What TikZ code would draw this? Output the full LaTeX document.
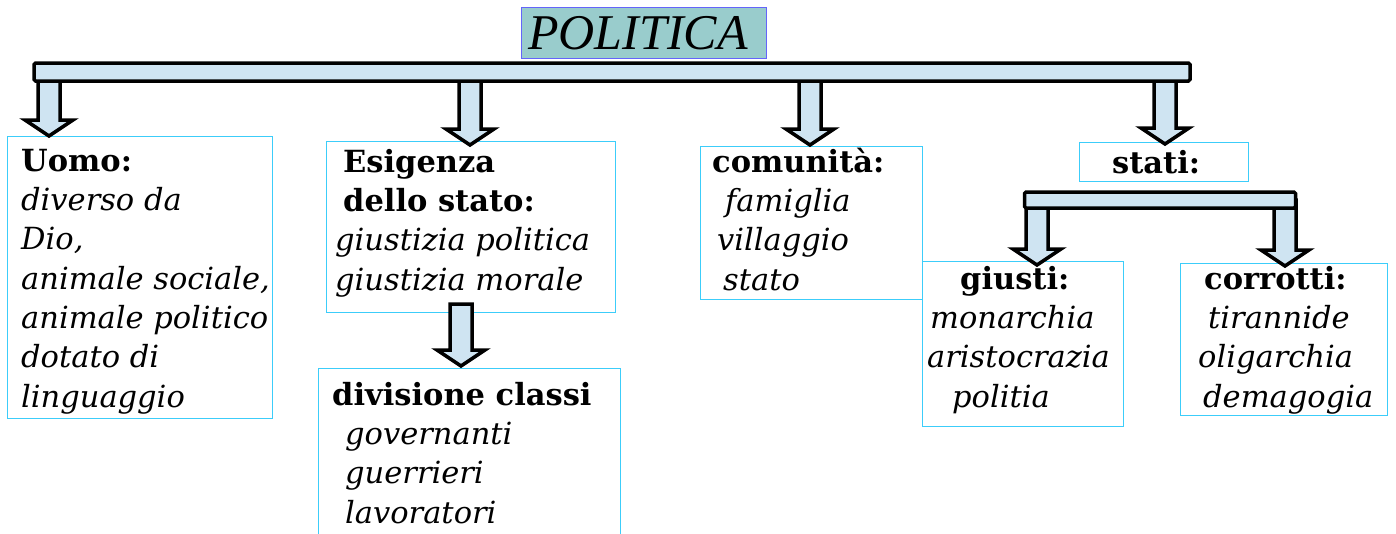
\documentclass[tikz,border=0pt]{standalone}
\usepackage{fontspec}
\setmainfont{DejaVu Serif}
\newfontfamily\titlefont{Liberation Serif}
\usetikzlibrary{calc}

\definecolor{barblue}{RGB}{207,228,242}
\definecolor{boxcyan}{RGB}{60,205,250}
\definecolor{titleteal}{RGB}{153,204,204}
\definecolor{titleline}{RGB}{100,100,250}

\tikzset{
  conceptbox/.style={draw=boxcyan, line width=1.2pt, anchor=north west, inner sep=0pt},
  boxtext/.style={anchor=base west, inner sep=0pt, align=left, font=\fontsize{30.5}{39.3}\selectfont},
  barbox/.style={draw=black, fill=barblue, line width=3.5pt, rounded corners=1.5pt, inner sep=0pt},
  fatarrow/.style={draw=black, fill=barblue, line width=3.5pt, line join=miter}
}

\newcommand{\fatarrow}[2]{%
  \draw[fatarrow] let \p1=(#1), \p2=(#2) in
    (\x2-11pt,\y1) -- (\x2-11pt,\y2+16pt) -- (\x2-24pt,\y2+16pt) -- (\x2,\y2)
    -- (\x2+24pt,\y2+16pt) -- (\x2+11pt,\y2+16pt) -- (\x2+11pt,\y1) -- cycle;}

\begin{document}
\begin{tikzpicture}[x=1pt,y=-1pt]
\useasboundingbox (0,0) rectangle (1396,533);

\node[draw=titleline, fill=titleteal, line width=1pt, minimum width=245pt, minimum height=51pt, inner sep=0pt,
  font=\titlefont\fontsize{50}{52}\selectfont\itshape] (politica) at (644,33) {\hspace*{-12pt}POLITICA};

\node[conceptbox, minimum width=265pt, minimum height=282pt] (uomo) at (7,136) {};
\node[conceptbox, minimum width=289pt, minimum height=171pt] (esigenza) at (326,141) {};
\node[conceptbox, minimum width=302pt, minimum height=200pt] (divisione) at (318,368) {};
\node[conceptbox, minimum width=222pt, minimum height=153pt] (comunita) at (700,146) {};
\node[conceptbox, minimum width=169pt, minimum height=39pt] (stati) at (1079,142) {};
\node[conceptbox, minimum width=201pt, minimum height=165pt] (giusti) at (922,261) {};
\node[conceptbox, minimum width=207pt, minimum height=152pt] (corrotti) at (1180,263) {};

\node[boxtext] (uomotxt) at (21,407) {\textbf{Uomo:}\\ \textit{diverso da}\\ \textit{Dio,}\\
  \textit{animale sociale,}\\ \textit{animale politico}\\ \textit{dotato di}\\ \textit{linguaggio}};
\node[boxtext] (esigenzatxt) at (335,290) {\hspace*{8pt}\textbf{Esigenza}\\ \hspace*{8pt}\textbf{dello stato:}\\
  \textit{giustizia politica}\\ \textit{giustizia morale}};
\node[boxtext] (divisionetxt) at (332,523) {\textbf{divisione classi}\\ \hspace*{13pt}\textit{governanti}\\
  \hspace*{13pt}\textit{guerrieri}\\ \hspace*{13pt}\textit{lavoratori}};
\node[boxtext] (comunitatxt) at (712,290) {\textbf{comunità:}\\ \hspace*{13pt}\textit{famiglia}\\
  \hspace*{5pt}\textit{villaggio}\\ \hspace*{11pt}\textit{stato}};
\node[boxtext] (statitxt) at (1112,173) {\textbf{stati:}};
\node[boxtext] (giustitxt) at (927,407) {\hspace*{33pt}\textbf{giusti:}\\ \hspace*{3pt}\textit{monarchia}\\
  \textit{aristocrazia}\\ \hspace*{25pt}\textit{politia}};
\node[boxtext] (corrottitxt) at (1198,407) {\hspace*{6pt}\textbf{corrotti:}\\ \hspace*{10pt}\textit{tirannide}\\
  \textit{oligarchia}\\ \hspace*{5pt}\textit{demagogia}};

\coordinate (topbar) at (612,72);
\coordinate (subbar) at (1160,200);
\coordinate (esigenzabot) at (461,304);
\coordinate (tipuomo) at (49,136);
\coordinate (tipesigenza) at (470,145);
\coordinate (tipcomunita) at (810,145);
\coordinate (tipstati) at (1165,144);
\coordinate (tipgiusti) at (1037,265);
\coordinate (tipcorrotti) at (1285,266);
\coordinate (tipdivisione) at (461,366);

\fatarrow{topbar}{tipuomo}
\fatarrow{topbar}{tipesigenza}
\fatarrow{topbar}{tipcomunita}
\fatarrow{topbar}{tipstati}
\fatarrow{subbar}{tipgiusti}
\fatarrow{subbar}{tipcorrotti}
\fatarrow{esigenzabot}{tipdivisione}

\node[barbox, minimum width=1156pt, minimum height=18pt] (bar) at (topbar) {};
\node[barbox, minimum width=271pt, minimum height=16pt] (sottobar) at (subbar) {};
\end{tikzpicture}
\end{document}
